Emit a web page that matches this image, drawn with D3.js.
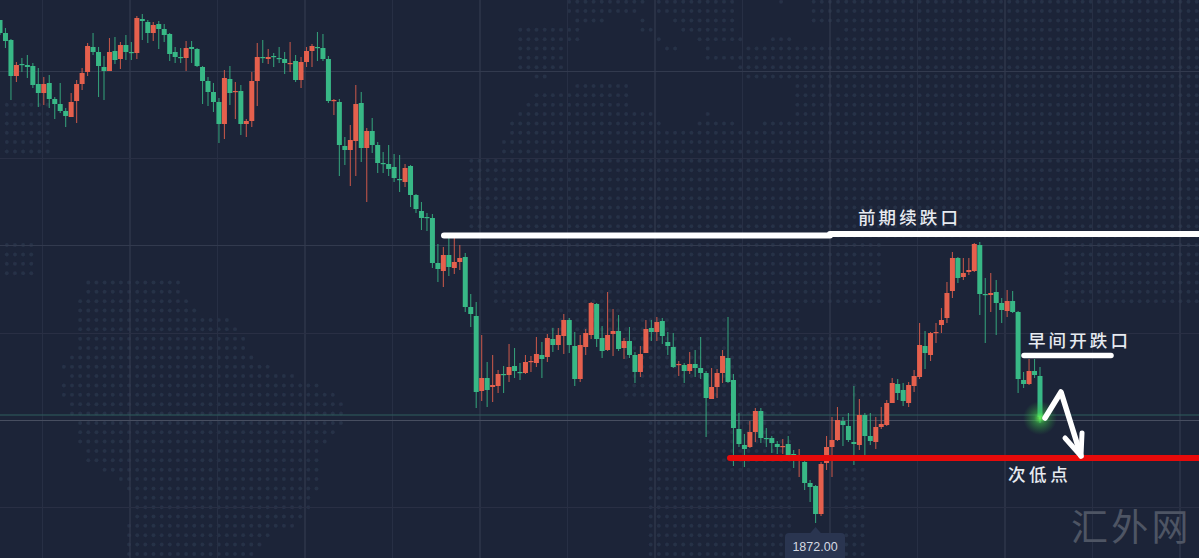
<!DOCTYPE html>
<html><head><meta charset="utf-8">
<script src="https://cdn.jsdelivr.net/npm/d3@7/dist/d3.min.js"></script>
<style>html,body{margin:0;padding:0;background:#1c2438;overflow:hidden}svg{display:block}</style>
</head><body><svg id="c" width="1199" height="558"></svg>
<script>
const opens=[1972.6,1970.0,1968.6,1961.4,1963.8,1963.6,1963.4,1959.8,1958.0,1960.0,1956.8,1955.8,1954.4,1953.2,1956.4,1959.8,1962.2,1967.2,1966.2,1963.2,1962.4,1966.4,1964.8,1967.6,1966.2,1966.0,1972.8,1972.2,1970.0,1971.8,1970.8,1969.8,1966.2,1965.2,1965.0,1967.2,1966.8,1963.2,1960.4,1958.2,1956.2,1951.8,1960.8,1958.2,1958.4,1951.8,1952.4,1960.4,1965.2,1964.8,1965.4,1965.0,1964.8,1963.8,1964.4,1960.6,1964.2,1966.4,1967.2,1967.0,1964.8,1956.4,1956.2,1947.4,1946.6,1948.4,1956.0,1947.0,1950.4,1947.6,1944.0,1943.8,1943.2,1940.8,1940.2,1943.4,1937.6,1934.4,1933.2,1933.0,1924.0,1922.4,1925.6,1923.0,1924.2,1925.2,1915.2,1913.4,1898.4,1901.0,1899.2,1899.4,1901.8,1901.6,1903.4,1902.2,1902.0,1904.2,1904.0,1905.6,1905.2,1908.8,1907.6,1909.4,1912.6,1907.4,1900.8,1907.2,1909.6,1915.8,1909.0,1906.6,1909.8,1910.4,1907.0,1908.4,1905.6,1902.2,1906.0,1911.0,1910.2,1912.4,1908.2,1907.2,1903.6,1903.6,1902.4,1903.8,1903.0,1902.0,1896.8,1899.2,1902.0,1905.0,1900.6,1890.8,1887.6,1887.2,1890.2,1894.4,1889.0,1889.0,1887.8,1887.2,1887.8,1885.8,1884.6,1884.2,1880.0,1879.4,1873.8,1884.0,1887.2,1888.6,1892.4,1891.4,1888.2,1887.6,1893.6,1889.4,1888.2,1891.2,1891.6,1896.0,1899.8,1898.6,1896.0,1899.4,1901.2,1907.4,1905.6,1910.0,1911.6,1913.0,1918.4,1925.0,1921.2,1922.2,1922.4,1927.6,1917.8,1917.6,1918.2,1916.0,1914.4,1916.4,1914.2,1900.6,1899.8,1902.4,1901.4];
const highs=[1972.6,1971.0,1968.8,1964.2,1965.0,1965.6,1964.0,1963.0,1961.2,1961.6,1957.2,1960.0,1955.0,1958.0,1960.6,1963.0,1968.0,1970.0,1967.2,1965.4,1969.0,1969.2,1968.2,1969.6,1968.2,1973.4,1973.8,1972.6,1972.2,1972.4,1971.8,1970.0,1967.2,1967.0,1968.4,1968.4,1967.0,1963.4,1961.2,1960.0,1957.0,1962.6,1963.4,1960.2,1959.6,1952.8,1962.2,1968.0,1968.6,1966.8,1966.0,1967.2,1966.2,1968.2,1965.6,1965.2,1967.2,1967.8,1970.2,1969.8,1965.4,1956.8,1956.8,1949.2,1951.6,1959.6,1958.2,1951.0,1953.0,1948.2,1946.2,1947.6,1945.8,1945.6,1943.8,1943.6,1937.8,1936.2,1934.0,1933.8,1927.8,1927.2,1929.0,1929.0,1927.6,1926.0,1917.8,1916.2,1909.6,1904.2,1905.6,1902.6,1903.4,1907.8,1907.0,1904.0,1905.6,1905.4,1909.2,1908.2,1909.8,1911.0,1911.0,1913.8,1913.0,1910.2,1909.6,1910.8,1916.2,1916.0,1911.4,1918.2,1914.8,1913.6,1909.0,1911.2,1906.2,1907.4,1912.6,1912.6,1913.2,1913.0,1910.2,1910.0,1904.4,1904.0,1906.2,1906.6,1909.2,1902.4,1903.0,1902.8,1906.6,1913.2,1901.8,1894.0,1889.8,1892.4,1895.0,1895.0,1891.0,1889.4,1888.4,1888.8,1889.4,1886.6,1886.8,1884.6,1880.6,1879.6,1884.2,1889.4,1893.2,1895.2,1893.2,1894.0,1899.4,1896.8,1894.0,1894.0,1893.2,1895.2,1896.6,1901.0,1900.8,1900.0,1900.2,1902.6,1912.0,1910.4,1910.2,1912.0,1915.0,1920.2,1926.2,1925.2,1925.0,1925.0,1928.0,1928.2,1921.0,1922.0,1920.6,1917.0,1918.6,1918.4,1914.4,1902.2,1904.8,1904.8,1903.2];
const lows=[1969.6,1967.0,1956.6,1960.2,1962.2,1961.0,1959.0,1955.2,1955.6,1955.0,1952.8,1954.0,1951.2,1953.2,1952.0,1958.6,1961.4,1965.6,1957.2,1956.6,1962.4,1963.8,1962.8,1964.6,1964.6,1964.8,1968.6,1968.0,1968.4,1966.8,1968.2,1964.4,1964.0,1964.0,1962.4,1964.0,1963.2,1955.8,1955.4,1954.2,1948.0,1948.8,1955.6,1952.8,1949.6,1949.2,1951.2,1955.4,1964.0,1963.8,1963.2,1964.0,1961.8,1962.2,1960.2,1959.0,1963.2,1963.2,1964.4,1964.4,1956.0,1953.6,1941.4,1943.6,1939.4,1941.4,1944.2,1936.2,1946.0,1942.0,1942.0,1941.4,1940.2,1938.2,1939.2,1935.2,1934.0,1930.6,1930.4,1923.0,1920.2,1919.2,1921.4,1921.8,1922.6,1914.2,1911.2,1895.0,1896.4,1895.2,1896.2,1898.0,1898.0,1900.2,1901.0,1900.6,1901.8,1902.2,1903.2,1901.0,1904.2,1906.2,1906.6,1905.8,1906.0,1899.4,1900.2,1905.6,1908.8,1907.2,1905.0,1906.4,1905.4,1906.4,1904.8,1905.0,1900.0,1901.2,1906.0,1908.4,1908.4,1907.8,1905.6,1903.0,1901.4,1900.0,1901.8,1901.2,1900.8,1889.2,1896.8,1897.0,1900.0,1900.0,1883.4,1887.2,1883.2,1887.0,1888.2,1888.0,1887.2,1886.0,1885.8,1885.8,1885.0,1883.0,1881.2,1878.6,1876.2,1872.0,1873.4,1882.6,1881.2,1888.4,1887.4,1888.2,1883.6,1886.6,1885.6,1887.6,1886.8,1890.8,1891.4,1896.0,1896.6,1895.4,1895.2,1898.2,1900.8,1902.8,1904.4,1908.0,1910.0,1912.0,1917.0,1920.0,1920.6,1921.6,1922.2,1913.6,1908.0,1914.2,1909.6,1912.0,1913.2,1914.0,1898.0,1899.0,1899.6,1901.0,1892.0];
const closes=[1970.0,1968.4,1961.4,1963.6,1963.6,1963.2,1959.6,1958.0,1959.8,1956.8,1955.8,1954.4,1953.4,1956.2,1959.8,1962.0,1967.4,1966.2,1963.4,1962.4,1966.2,1964.6,1967.6,1966.2,1966.0,1973.0,1972.4,1970.0,1971.6,1970.8,1969.6,1965.8,1965.2,1965.0,1967.0,1966.8,1963.4,1960.4,1958.2,1956.2,1951.8,1961.0,1958.0,1958.4,1951.8,1952.4,1960.4,1965.2,1965.0,1965.2,1965.2,1964.8,1964.0,1964.0,1960.6,1964.2,1966.4,1967.4,1967.0,1964.8,1956.4,1956.6,1947.6,1946.6,1948.6,1955.8,1947.0,1950.4,1947.6,1944.0,1943.8,1942.8,1941.0,1940.6,1943.0,1937.6,1934.8,1933.0,1933.0,1924.0,1922.8,1925.6,1923.2,1924.2,1925.0,1915.2,1913.8,1898.2,1901.0,1898.6,1899.6,1901.8,1901.6,1903.2,1902.4,1902.0,1904.2,1904.4,1905.8,1904.8,1909.0,1907.6,1909.6,1912.6,1907.6,1900.8,1907.6,1910.0,1916.0,1908.8,1906.4,1909.6,1910.4,1906.8,1908.4,1905.6,1902.2,1905.8,1910.8,1910.2,1912.2,1909.4,1907.4,1903.2,1903.8,1902.4,1903.8,1903.0,1902.0,1897.0,1899.2,1902.0,1905.4,1900.2,1891.0,1887.8,1886.8,1890.2,1894.4,1889.0,1888.8,1888.0,1887.2,1887.4,1885.2,1885.6,1885.6,1880.0,1879.2,1873.8,1883.8,1887.2,1888.6,1892.6,1891.6,1888.6,1887.8,1893.6,1889.4,1888.4,1891.2,1891.8,1896.0,1900.0,1898.0,1896.4,1899.6,1901.4,1907.6,1906.0,1910.0,1910.2,1912.6,1918.0,1925.0,1921.0,1922.0,1922.6,1927.8,1917.8,1917.6,1918.0,1916.0,1914.6,1916.4,1914.2,1900.8,1899.8,1902.4,1901.6,1893.2];
const lastPrice=1893.2;
const levelHighLeft=1929.5, levelHighRight=1929.8, levelLow=1885.0, openGap=1905.5;
const labels=["前期续跌口","早间开跌口","次低点"];
const watermark="汇外网";

const W=1199,H=558;
const svg=d3.select("#c");
const x=d3.scaleLinear().domain([0,opens.length-1]).range([0,1040]);
const y=d3.scaleLinear().domain([1872,1976.6]).range([523,0]);
const defs=svg.append("defs");
defs.append("filter").attr("id","soft").append("feGaussianBlur").attr("stdDeviation",0.6);

svg.append("rect").attr("width",W).attr("height",H).attr("fill","#1c2438");

// decorative dotted world map: [first row, last row, x from, x to, ...]
const mapRows=[
[0,0,562,647,657,740,773,787,808,1199],[1,1,562,638,657,740,808,1199],[2,2,570,607,635,647,668,740,813,1199],
[3,3,513,580,635,653,683,740,840,1199],[4,4,513,580,652,662,693,743,767,793,830,1199],[5,5,513,567,660,680,700,710,743,1199],
[6,6,513,567,700,1199],[7,7,513,567,733,1199],[8,8,530,548,743,1199],[9,9,570,630,790,1199],[10,10,530,630,790,1199],
[11,11,0,50,522,630,790,1199],[12,12,0,50,513,653,700,710,790,1199],[13,13,0,55,505,663,693,740,757,1199],
[14,14,0,55,505,1199],[15,16,0,55,497,1199],[17,25,470,1199],[26,29,0,33,490,885,1060,1199],[30,30,88,180,490,885,1060,1199],
[31,31,88,182,490,885,1060,1199],[32,32,73,190,490,885,1060,1199],[33,33,80,198,510,800],[34,34,80,230,510,800],[35,35,80,238,510,800],
[36,37,73,247,620,880],[38,38,65,253,620,880],[39,39,57,270,620,880],[40,40,65,293,620,880],[41,41,57,318,620,880],[42,42,57,335,620,880],
[43,44,65,343,645,790],[45,45,73,343,645,790],[46,46,73,335,645,790],[47,47,80,327,645,790],[48,49,88,318,645,790],
[50,50,97,318,645,790,840,865],[51,51,113,318,645,790,840,865],[52,52,122,318,645,790,840,865],[53,54,130,310,645,790,840,865],
[55,55,130,302,645,790,840,865],[56,56,122,293,645,790,840,865],[57,57,122,268,645,790,840,865],[58,58,122,260,645,790,840,865],[59,59,122,253,645,790,840,865]];
const dots=[];
mapRows.forEach(r=>{
  for(let row=r[0];row<=r[1];row++)
    for(let k=2;k<r.length;k+=2)
      for(let c=Math.ceil((r[k]-88.3)/8.15);88.3+c*8.15<=r[k+1];c++)
        dots.push([88.3+c*8.15,1.7+row*9.36]);
});
svg.append("g").attr("filter","url(#soft)").selectAll("circle").data(dots).join("circle")
 .attr("cx",d=>d[0]).attr("cy",d=>d[1]).attr("r",2).attr("fill","#263046");

// grid
const gx=d3.range(42.5,1199,87.5), gy=[71,158,245,333,507];
const grid=svg.append("g");
grid.selectAll("line.v").data(gx).join("line").attr("class","v").attr("x1",d=>d).attr("x2",d=>d).attr("y1",0).attr("y2",H)
 .attr("stroke",(d,i)=>i%2===1?"#363e52":"#272f44").attr("stroke-width",1);
grid.selectAll("line.h").data(gy).join("line").attr("class","h").attr("x1",0).attr("x2",W).attr("y1",d=>d+.5).attr("y2",d=>d+.5)
 .attr("stroke",d=>(d===71||d===245)?"#323a4e":"#292f44").attr("stroke-width",1);
// crosshair style line and last price line
svg.append("line").attr("x1",0).attr("x2",W).attr("y1",420.5).attr("y2",420.5).attr("stroke","#474e60").attr("stroke-width",1);
svg.append("line").attr("x1",0).attr("x2",W).attr("y1",y(lastPrice)-2).attr("y2",y(lastPrice)-2).attr("stroke","#2f5f5e").attr("stroke-width",1.2);

const idx=d3.range(opens.length);
const G="#38b886",R="#e5604d";
const col=i=>closes[i]>opens[i]?R:G;
const c=svg.append("g");
c.selectAll("line").data(idx).join("line")
 .attr("x1",i=>x(i)).attr("x2",i=>x(i)).attr("y1",i=>y(highs[i])).attr("y2",i=>y(lows[i]))
 .attr("stroke",col).attr("stroke-width",1.1).attr("opacity",.8);
c.selectAll("rect").data(idx).join("rect")
 .attr("x",i=>x(i)-2.5).attr("width",5)
 .attr("y",i=>y(Math.max(opens[i],closes[i])))
 .attr("height",i=>Math.max(1.2,Math.abs(y(opens[i])-y(closes[i]))))
 .attr("fill",col);

// glow at last price
const rg=defs.append("radialGradient").attr("id","glow");
rg.append("stop").attr("offset","0%").attr("stop-color","#6dff5a").attr("stop-opacity",.95);
rg.append("stop").attr("offset","35%").attr("stop-color","#3fc84a").attr("stop-opacity",.5);
rg.append("stop").attr("offset","100%").attr("stop-color","#2ca040").attr("stop-opacity",0);
svg.append("circle").attr("cx",x(opens.length-1)).attr("cy",y(lastPrice)+1).attr("r",17).attr("fill","url(#glow)");

// drawn levels
const ln=(x1,p1,x2,p2,color,w)=>svg.append("line").attr("x1",x1).attr("x2",x2).attr("y1",y(p1)).attr("y2",y(p2)).attr("stroke",color).attr("stroke-width",w).attr("stroke-linecap","round");
ln(444,levelHighLeft,830,levelHighLeft,"#fff",6);
ln(830,levelHighRight,1205,levelHighRight,"#fff",6);
ln(1024,openGap,1111,openGap,"#fff",5.5);
ln(730,levelLow,1205,levelLow,"#e60a0a",6);

// hand-drawn arrow
const arrow=d3.line().curve(d3.curveLinear);
svg.append("path").attr("d",arrow([[1045,418],[1061,392],[1081,456]])).attr("fill","none").attr("stroke","#fff").attr("stroke-width",5.5).attr("stroke-linecap","round").attr("stroke-linejoin","round");
svg.append("path").attr("d",arrow([[1065,438],[1081,456],[1082,433]])).attr("fill","none").attr("stroke","#fff").attr("stroke-width",5).attr("stroke-linecap","round").attr("stroke-linejoin","round");

// text
const font='"Noto Sans CJK SC","Noto Sans",sans-serif';
const t=(s,px,py,size,ls,fill,weight)=>svg.append("text").attr("x",px).attr("y",py).text(s).attr("font-family",font).attr("font-size",size).attr("letter-spacing",ls).attr("fill",fill).attr("font-weight",weight);
t(labels[0],858,224,17.5,3.1,"#e6eaf0",500);
t(labels[1],1028,347,17.5,3.1,"#e6eaf0",500);
t(labels[2],1008,481,17.5,3.6,"#e6eaf0",500);
t(watermark,1071,541,37,3.2,"#4e5564",400);

// low tooltip
const tipX=x(lows.indexOf(d3.min(lows)));
svg.append("path").attr("d",`M${tipX-7},535 L${tipX},527 L${tipX+7},535 Z`).attr("fill","#2a3550");
svg.append("rect").attr("x",785).attr("y",533).attr("width",60).attr("height",30).attr("rx",4).attr("fill","#2a3550");
svg.append("text").attr("x",815).attr("y",550.5).attr("text-anchor","middle").text(d3.min(lows).toFixed(2)).attr("font-family","'Liberation Sans',Arial,sans-serif").attr("font-size",12.5).attr("fill","#d5d9e2");
</script></body></html>
